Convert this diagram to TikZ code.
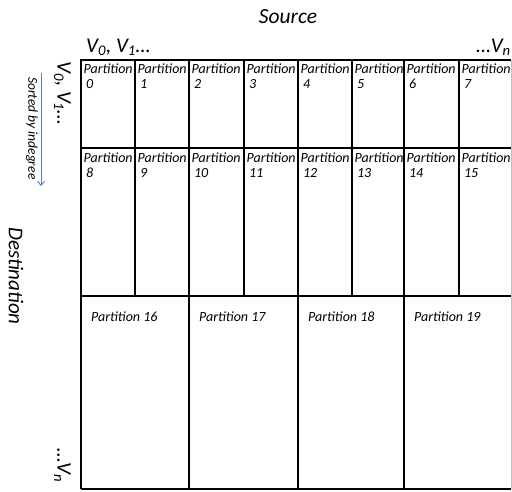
\documentclass[tikz,border=0pt]{standalone}
\usepackage{fontspec}
\setmainfont{Carlito}
\usetikzlibrary{arrows.meta}
\begin{document}
\begin{tikzpicture}[x=1pt,y=-1pt,
  gridline/.style={line width=1.5pt,black},
  ptext/.style={font=\fontsize{14}{14}\selectfont\itshape,inner sep=0pt,anchor=north west,align=left},
  wide/.style={font=\fontsize{14}{14}\selectfont\itshape,inner sep=0pt,anchor=north west},
  biglab/.style={font=\fontsize{21.5}{24}\selectfont\itshape,inner sep=0pt},
  vlab/.style={font=\fontsize{21}{24}\selectfont\itshape,inner sep=0pt}]
\useasboundingbox (0,0) rectangle (512,491);
\fill[white] (0,0) rectangle (512,491);
% grid
\draw[gridline] (81,489) -- (81,60) -- (511,60);
\draw[gray!50,line width=1pt] (511,60) -- (511,489);
\draw[gridline] (81,148) -- (511,148);
\draw[gridline] (81,296) -- (511,296);
\draw[gridline] (81,489) -- (511,489);
\foreach \x in {135,189,244,298,352,404,459} \draw[gridline] (\x,60) -- (\x,296);
\foreach \x in {189,298,404} \draw[gridline] (\x,296) -- (\x,489);
% partition labels
\foreach \x [count=\i from 0] in {81,135,189,244,298,352,404,459} {
  \node[ptext] (p\i) at (\x+2.5,63.5) {Partition\\[1pt]\,\i};
}
\foreach \x [count=\i from 8] in {81,135,189,244,298,352,404,459} {
  \node[ptext] (p\i) at (\x+2.5,152.5) {Partition\\[1pt]\,\i};
}
\foreach \x [count=\i from 16] in {81,189,298,404} {
  \node[wide] (p\i) at (\x+10,311.5) {Partition \i};
}
% axis labels
\node[biglab] (src) at (288,17) {Source};
\node[vlab,anchor=base west] (v0top) at (86,52) {V\textsubscript{0}, V\textsubscript{1}…};
\node[vlab,anchor=base east] (vntop) at (511,52) {…V\textsubscript{n}};
\node[vlab,rotate=-90,anchor=north west] (v0left) at (71,61) {V\textsubscript{0}, V\textsubscript{1}…};
\node[vlab,rotate=-90,anchor=north east] (vnleft) at (71,483) {…V\textsubscript{n}};
\node[biglab,rotate=-90,font=\fontsize{21}{24}\selectfont\itshape] (dest) at (16,276) {Destination};
\node[rotate=-90,inner sep=0pt,font=\fontsize{13.5}{14}\selectfont\itshape,anchor=north west] (sorted) at (38,77) {Sorted by indegree};
\coordinate (arrs) at (41,73);
\coordinate (arre) at (41,186);
\draw[color={rgb,255:red,79;green,129;blue,189},line width=0.9pt,-{Straight Barb[length=4pt,width=7pt]}] (arrs) -- (arre);
\end{tikzpicture}
\end{document}
